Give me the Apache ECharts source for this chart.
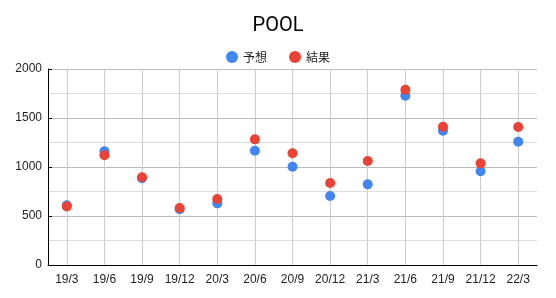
<!DOCTYPE html>
<html><head><meta charset="utf-8">
<script src="https://cdn.jsdelivr.net/npm/echarts@6/dist/echarts.min.js"></script>
<style>html,body{margin:0;padding:0;background:#fff}#c{width:556px;height:298px}</style>
</head><body><div id="c"></div>
<script>
const categories = ['19/3','19/6','19/9','19/12','20/3','20/6','20/9','20/12','21/3','21/6','21/9','21/12','22/3'];
const forecast = [610, 1160, 885, 568, 629, 1166, 1003, 704, 823, 1728, 1371, 956, 1258];
const actual = [598, 1119, 895, 582, 673, 1282, 1140, 837, 1061, 1789, 1411, 1037, 1408];
const chart = echarts.init(document.getElementById('c'));
const axisFont = '"Liberation Sans", Arial, sans-serif';
chart.setOption({
  animation: false,
  title: {text: 'POOL', left: 'center', top: 11, textStyle: {fontFamily: 'Roboto, sans-serif', fontSize: 20, fontWeight: 'normal', color: '#000'}},
  legend: {top: 46, left: 'center', itemWidth: 12, itemHeight: 12, itemGap: 22, icon: 'circle',
    textStyle: {fontFamily: '"Noto Sans CJK JP", sans-serif', fontSize: 12, color: '#222'}},
  grid: {left: 48, right: 19, top: 69, bottom: 33},
  xAxis: {type: 'category', data: categories, boundaryGap: true,
    axisLine: {lineStyle: {color: '#000'}}, axisTick: {show: false},
    axisLabel: {fontFamily: axisFont, fontSize: 12, color: '#222', margin: 9, interval: 0},
    splitLine: {show: true, alignWithLabel: true, lineStyle: {color: '#ccc'}}},
  yAxis: {type: 'value', min: 0, max: 2000, interval: 500,
    axisLine: {show: true, lineStyle: {color: '#000'}},
    axisTick: {show: true, inside: true, length: 4, lineStyle: {color: '#000'}},
    axisLabel: {fontFamily: axisFont, fontSize: 12, color: '#222', margin: 6, formatter: v => String(v)},
    splitLine: {lineStyle: {color: '#bbb'}},
    minorTick: {show: false, splitNumber: 2},
    minorSplitLine: {show: true, lineStyle: {color: '#ddd'}}},
  series: [
    {name: '予想', type: 'scatter', data: forecast, symbolSize: 10, itemStyle: {color: '#4285F4', opacity: 1}},
    {name: '結果', type: 'scatter', data: actual, symbolSize: 10, itemStyle: {color: '#EA4335', opacity: 1}}
  ]
});
</script></body></html>
